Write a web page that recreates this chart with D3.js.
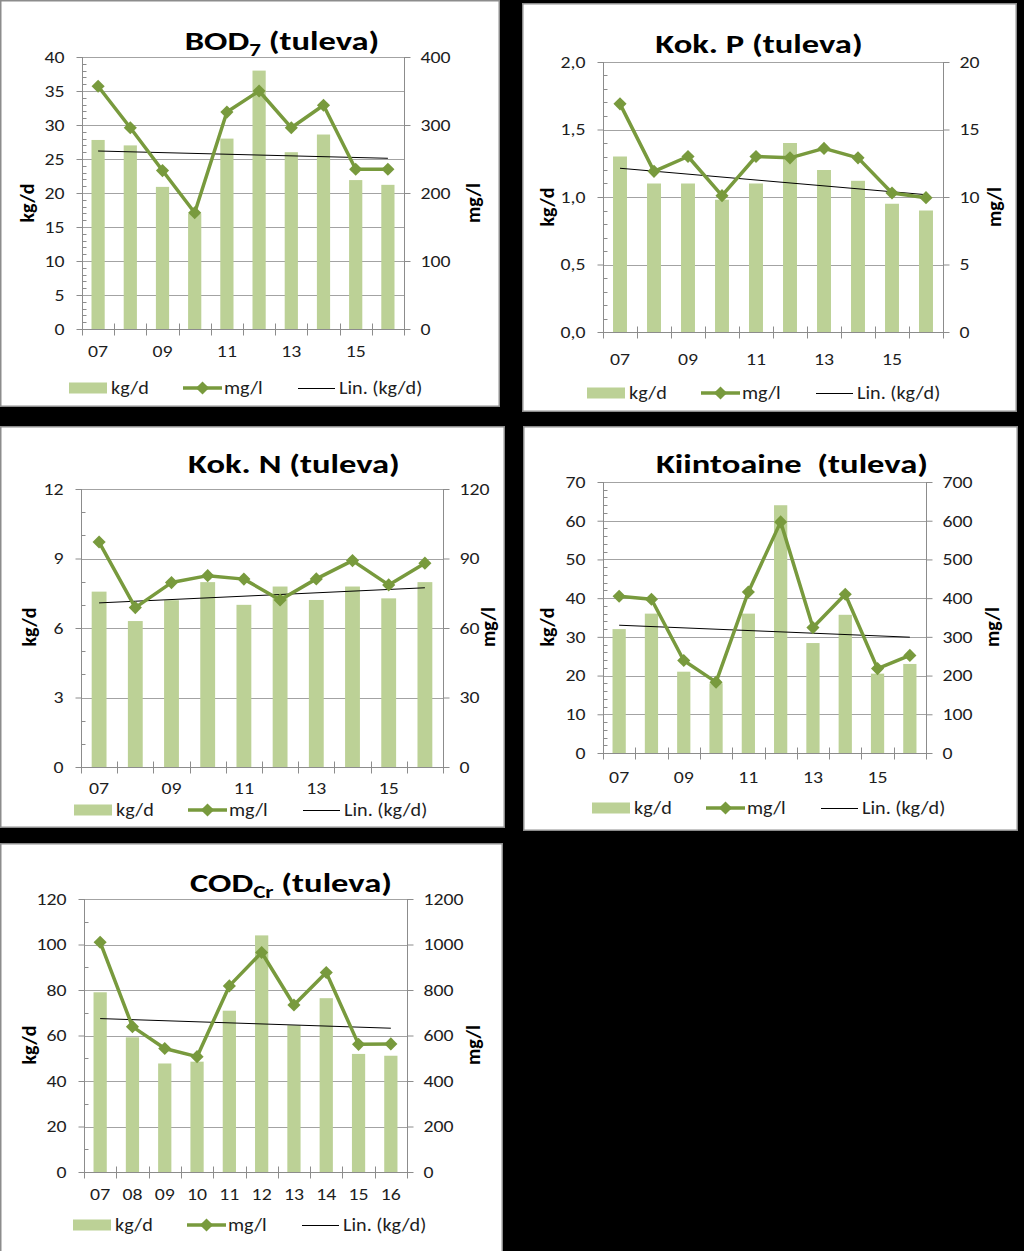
<!DOCTYPE html>
<html><head><meta charset="utf-8">
<script src="https://cdn.jsdelivr.net/npm/d3@7"></script>
<style>html,body{margin:0;padding:0;background:#000;} svg{display:block;} text{font-family:Carlito,Lato,"Liberation Sans",sans-serif;}</style>
</head><body>
<svg id="c" width="1024" height="1251"></svg>
<script>
// ---------- DATA ----------
const years = ["07","08","09","10","11","12","13","14","15","16"];

const bodKg = [27.8, 27.0, 20.9, 17.0, 28.0, 38.0, 26.0, 28.6, 21.9, 21.2];
const bodMg = [357, 296, 233, 171, 319, 350, 296, 329, 235, 235];
const bodKgTicks = [0, 5, 10, 15, 20, 25, 30, 35, 40];
const bodMgTicks = [0, 100, 200, 300, 400];

const pKg = [1.30, 1.10, 1.10, 0.98, 1.10, 1.40, 1.20, 1.12, 0.95, 0.90];
const pMg = [16.9, 11.9, 13.0, 10.1, 13.0, 12.9, 13.6, 12.9, 10.3, 9.95];
const pKgTicks = [0, 0.5, 1.0, 1.5, 2.0];
const pMgTicks = [0, 5, 10, 15, 20];

const nKg = [7.57, 6.3, 7.2, 7.98, 7.0, 7.79, 7.21, 7.79, 7.28, 7.98];
const nMg = [97.1, 68.8, 79.6, 82.6, 81.1, 72.1, 81.2, 89.1, 78.6, 88.0];
const nKgTicks = [0, 3, 6, 9, 12];
const nMgTicks = [0, 30, 60, 90, 120];

const ssKg = [32, 36, 21, 18, 36, 64, 28.4, 35.7, 20.5, 23];
const ssMg = [405, 397, 239, 183, 416, 597, 324, 410, 218, 252];
const ssKgTicks = [0, 10, 20, 30, 40, 50, 60, 70];
const ssMgTicks = [0, 100, 200, 300, 400, 500, 600, 700];

const codKg = [79, 59.2, 47.7, 48.5, 70.9, 104, 64.5, 76.4, 51.9, 51.1];
const codMg = [1010, 639, 543, 507, 818, 965, 734, 877, 561, 563];
const codKgTicks = [0, 20, 40, 60, 80, 100, 120];
const codMgTicks = [0, 200, 400, 600, 800, 1000, 1200];

const legendLabels = ["kg/d", "mg/l", "Lin. (kg/d)"];

// ---------- LAYOUT / STYLE ----------
const BAR = "#bcd196", LINE = "#789a3d", GRID = "#a3a3a3", AXIS = "#8c8c8c", TXT = "#1e1e1e";
const TICK_FS = 16.5, TICK_SX = 1.2, LEG_FS = 18, LEG_SX = 1.12, TITLE_FS = 27, TITLE_SX = 1.28, AX_FS = 20;

const charts = [
  {title:["BOD","7"," (tuleva)"], kg:bodKg, mg:bodMg, kt:bodKgTicks, mt:bodMgTicks, minor:1, fmt:d=>String(d),
   panel:[0,0,500,407], plot:{l:82,r:404,t:57,b:329}, tx:282, ty:50, kgl:[27,203], mgl:[473,203], leg:[69,388], xdy:28, all:false},
  {title:["Kok. P (tuleva)"], kg:pKg, mg:pMg, kt:pKgTicks, mt:pMgTicks, minor:0.1, fmt:d=>d.toFixed(1).replace(".",","),
   panel:[522,3,495,409], plot:{l:603,r:943,t:62,b:332}, tx:759, ty:53, kgl:[547,207], mgl:[994,207], leg:[587,393], xdy:33, all:false},
  {title:["Kok. N (tuleva)"], kg:nKg, mg:nMg, kt:nKgTicks, mt:nMgTicks, minor:1, fmt:d=>String(d),
   panel:[0,426,505,402], plot:{l:81,r:443,t:489,b:767}, tx:294, ty:473, kgl:[29,627], mgl:[488,627], leg:[74,810], xdy:26.5, all:false},
  {title:["Kiintoaine  (tuleva)"], kg:ssKg, mg:ssMg, kt:ssKgTicks, mt:ssMgTicks, minor:2, fmt:d=>String(d),
   panel:[523,426,495,405], plot:{l:603,r:926,t:482,b:753}, tx:792, ty:473, kgl:[547,627], mgl:[992,627], leg:[592,808], xdy:30, all:false},
  {title:["COD","Cr"," (tuleva)"], kg:codKg, mg:codMg, kt:codKgTicks, mt:codMgTicks, minor:10, fmt:d=>String(d),
   panel:[0,843,503,420], plot:{l:84,r:407,t:899,b:1172}, tx:291, ty:892, kgl:[29,1045], mgl:[473,1045], leg:[73,1225], xdy:28, all:true}
];

const svg = d3.select("#c");
svg.append("rect").attr("width",1024).attr("height",1251).attr("fill","#000");

// horizontally stretch a text element about its own x anchor
function stretch(sel, s){
  sel.each(function(){
    const t = d3.select(this);
    const x = +(t.attr("x") || 0);
    t.attr("x", x / s).attr("transform", `scale(${s},1)`);
  });
}

function linFit(vals){
  const xs = vals.map((_,i)=>i+1);
  const mx = d3.mean(xs), my = d3.mean(vals);
  let sxy=0, sxx=0;
  xs.forEach((x,i)=>{ sxy += (x-mx)*(vals[i]-my); sxx += (x-mx)*(x-mx); });
  const b = sxy/sxx, a = my - b*mx;
  return xs.map(x=>a+b*x);
}

charts.forEach(c=>{
  const g = svg.append("g");
  const [px,py,pw,ph] = c.panel;
  g.append("rect").attr("x",px+0.75).attr("y",py+0.75).attr("width",pw-1.5).attr("height",ph-1.5)
    .attr("fill","#fff").attr("stroke",AXIS).attr("stroke-width",1.5);

  const p = c.plot;
  const x = d3.scaleBand().domain(years).range([p.l,p.r]).padding(0);
  const yL = d3.scaleLinear().domain([0, d3.max(c.kt)]).range([p.b,p.t]);
  const yR = d3.scaleLinear().domain([0, d3.max(c.mt)]).range([p.b,p.t]);
  const cx = d => x(d) + x.bandwidth()/2;
  const bw = x.bandwidth()*0.41;

  // gridlines
  g.selectAll(".grid").data(c.kt.filter(v=>v>0)).join("line")
    .attr("x1",p.l).attr("x2",p.r).attr("y1",d=>Math.round(yL(d))+0.5).attr("y2",d=>Math.round(yL(d))+0.5)
    .attr("stroke",GRID).attr("stroke-width",1);

  // bars
  g.selectAll(".bar").data(years).join("rect")
    .attr("x",(d)=>cx(d)-bw/2).attr("width",bw)
    .attr("y",(d,i)=>yL(c.kg[i])).attr("height",(d,i)=>p.b-yL(c.kg[i]))
    .attr("fill",BAR);

  // left axis
  const la = g.append("g").attr("transform",`translate(${p.l+0.5},0)`)
    .call(d3.axisLeft(yL).tickValues(c.kt).tickFormat(c.fmt).tickSize(6).tickPadding(12));
  const maxL = d3.max(c.kt);
  const minors = d3.range(0, maxL + c.minor/2, c.minor).filter(v=>!c.kt.some(t=>Math.abs(t-v)<1e-9));
  la.selectAll(".minor").data(minors).join("line")
    .attr("x1",0).attr("x2",4).attr("y1",d=>Math.round(yL(d))+0.5).attr("y2",d=>Math.round(yL(d))+0.5)
    .attr("stroke",AXIS);

  // right axis
  const ra = g.append("g").attr("transform",`translate(${p.r+0.5},0)`)
    .call(d3.axisRight(yR).tickValues(c.mt).tickFormat(d=>String(d)).tickSize(6).tickPadding(10));

  [la,ra].forEach(a=>{
    a.select(".domain").attr("stroke",AXIS).attr("d", `M0,${p.b}V${p.t}`);
    a.selectAll(".tick line").attr("stroke",AXIS);
    const tt = a.selectAll(".tick text").attr("fill",TXT).style("font-size",TICK_FS+"px").style("font-family","Carlito,Lato,sans-serif");
    stretch(tt, TICK_SX);
  });

  // x axis
  const xa = g.append("g").attr("transform",`translate(0,${p.b+0.5})`);
  xa.append("line").attr("x1",p.l).attr("x2",p.r).attr("stroke",AXIS);
  const bounds = years.map(d=>x(d)).concat([p.r]);
  xa.selectAll(".xt").data(bounds).join("line")
    .attr("x1",d=>Math.round(d)+0.5).attr("x2",d=>Math.round(d)+0.5).attr("y1",-6).attr("y2",6)
    .attr("stroke",AXIS);
  const xl = xa.selectAll(".xl").data(years.filter((d,i)=>c.all || i%2===0)).join("text")
    .attr("x",d=>cx(d)).attr("y",c.xdy).attr("text-anchor","middle")
    .attr("fill",TXT).style("font-size",TICK_FS+"px").text(d=>d);
  stretch(xl, TICK_SX);

  // trend line
  const trend = linFit(c.kg);
  g.append("line")
    .attr("x1",cx(years[0])).attr("y1",yL(trend[0]))
    .attr("x2",cx(years[years.length-1])).attr("y2",yL(trend[trend.length-1]))
    .attr("stroke","#000").attr("stroke-width",1);

  // mg/l line
  const line = d3.line().x((d,i)=>cx(years[i])).y(d=>yR(d));
  g.append("path").datum(c.mg).attr("d",line).attr("fill","none")
    .attr("stroke",LINE).attr("stroke-width",3.5).attr("stroke-linejoin","round");
  const diamond = d3.symbol().type(d3.symbolDiamond2).size(110);
  g.selectAll(".mk").data(c.mg).join("path")
    .attr("d",diamond).attr("transform",(d,i)=>`translate(${cx(years[i])},${yR(d)})`)
    .attr("fill",LINE);

  // title
  const t = g.append("text").attr("x",c.tx).attr("y",c.ty).attr("text-anchor","middle")
    .attr("fill","#000").style("font-size",TITLE_FS+"px").style("font-weight","bold").style("white-space","pre");
  if (c.title.length === 3){
    t.append("tspan").text(c.title[0]);
    t.append("tspan").text(c.title[1]).style("font-size","18px").attr("dy",6);
    t.append("tspan").text(c.title[2]).attr("dy",-6);
  } else {
    t.text(c.title[0]);
  }
  stretch(t, TITLE_SX);

  // axis titles
  [[c.kgl,"kg/d"],[c.mgl,"mg/l"]].forEach(([pos,lab])=>{
    g.append("text").attr("transform",`translate(${pos[0]},${pos[1]}) rotate(-90)`)
      .attr("text-anchor","middle").attr("dominant-baseline","central")
      .attr("fill","#000").style("font-size",AX_FS+"px").style("font-weight","bold").text(lab);
  });

  // legend
  const [lx,ly] = c.leg;
  const lg = g.append("g").attr("transform",`translate(${lx},${ly})`);
  lg.append("rect").attr("x",0).attr("y",-5.5).attr("width",38).attr("height",11).attr("fill",BAR);
  lg.append("line").attr("x1",114).attr("x2",153).attr("y1",0).attr("y2",0).attr("stroke",LINE).attr("stroke-width",3.5);
  lg.append("path").attr("d",diamond).attr("transform","translate(133.5,0)").attr("fill",LINE);
  lg.append("line").attr("x1",229).attr("x2",266).attr("y1",0.5).attr("y2",0.5).attr("stroke","#000").attr("stroke-width",1);
  const lt = lg.selectAll(".lt").data(legendLabels).join("text")
    .attr("x",(d,i)=>[42,155,270][i]).attr("y",0).attr("dominant-baseline","central")
    .attr("fill",TXT).style("font-size",LEG_FS+"px").text(d=>d);
  stretch(lt, LEG_SX);
});
</script>
</body></html>
